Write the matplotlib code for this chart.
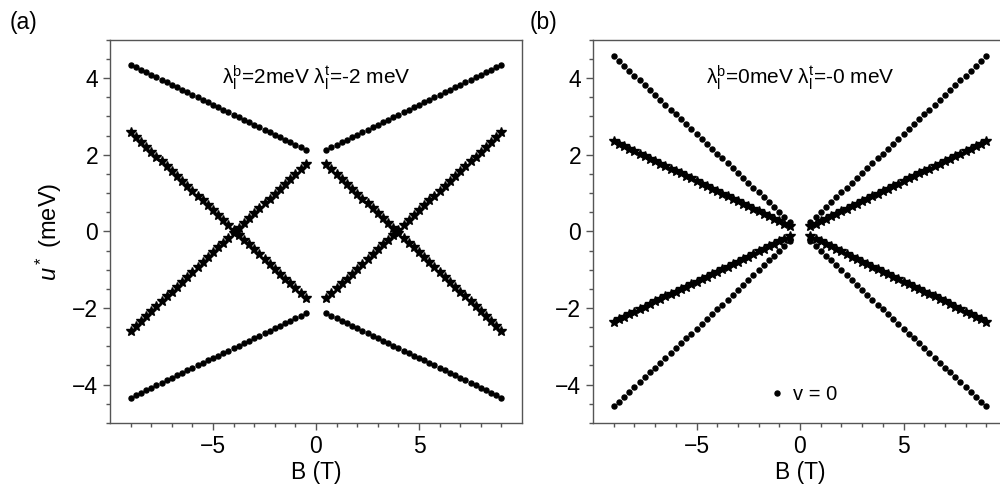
import numpy as np
import matplotlib
matplotlib.use("Agg")
import matplotlib.pyplot as plt
from matplotlib.ticker import FixedLocator, MultipleLocator

plt.rcParams["font.family"] = ["Liberation Sans", "DejaVu Sans"]
plt.rcParams["mathtext.fontset"] = "custom"
plt.rcParams["mathtext.rm"] = "Liberation Sans"
plt.rcParams["mathtext.it"] = "Liberation Sans:italic"

# Field values (T) for the positive-B half; negative half is mirrored
B = [0.5, 0.75, 1.0, 1.25, 1.5, 1.75, 2.0, 2.25, 2.5, 2.75, 3.0, 3.25,
     3.5, 3.75, 4.0, 4.25, 4.5, 4.75, 5.0, 5.25, 5.5, 5.75, 6.0, 6.25,
     6.5, 6.75, 7.0, 7.25, 7.5, 7.75, 8.0, 8.25, 8.5, 8.75, 9.0]

# (a) lambda_b = 2 meV, lambda_t = -2 meV
u_dot_a = [2.13, 2.20, 2.26, 2.33, 2.39, 2.46, 2.52, 2.59, 2.65, 2.72,
           2.78, 2.85, 2.91, 2.98, 3.04, 3.11, 3.17, 3.24, 3.30, 3.37,
           3.43, 3.50, 3.56, 3.63, 3.69, 3.76, 3.82, 3.89, 3.95, 4.02,
           4.08, 4.15, 4.21, 4.28, 4.34]
u_star_a = [-1.75, -1.62, -1.49, -1.36, -1.24, -1.11, -0.98, -0.85, -0.73,
            -0.60, -0.47, -0.34, -0.22, -0.09, 0.04, 0.17, 0.30, 0.42,
            0.55, 0.68, 0.81, 0.93, 1.06, 1.19, 1.32, 1.44, 1.57, 1.70,
            1.83, 1.95, 2.08, 2.21, 2.34, 2.46, 2.59]

# (b) lambda_b = 0 meV, lambda_t = 0 meV
u_dot_b = [0.25, 0.38, 0.51, 0.64, 0.76, 0.89, 1.02, 1.14, 1.27, 1.40,
           1.52, 1.65, 1.78, 1.91, 2.03, 2.16, 2.29, 2.41, 2.54, 2.67,
           2.79, 2.92, 3.05, 3.18, 3.30, 3.43, 3.56, 3.68, 3.81, 3.94,
           4.06, 4.19, 4.32, 4.45, 4.57]
u_star_b = [0.13, 0.20, 0.26, 0.33, 0.39, 0.46, 0.52, 0.59, 0.66, 0.72,
            0.79, 0.85, 0.92, 0.98, 1.05, 1.11, 1.18, 1.24, 1.31, 1.38,
            1.44, 1.51, 1.57, 1.64, 1.70, 1.77, 1.83, 1.90, 1.97, 2.03,
            2.10, 2.16, 2.23, 2.29, 2.36]

x_major = [-5, 0, 5]
x_minor = [-9, -8, -7, -6, -4, -3, -2, -1, 1, 2, 3, 4, 6, 7, 8, 9]

labels = ["(a)", "(b)"]
notes = ["λ$_\\mathrm{l}^\\mathrm{b}$=2meV λ$_\\mathrm{l}^\\mathrm{t}$=-2 meV",
         "λ$_\\mathrm{l}^\\mathrm{b}$=0meV λ$_\\mathrm{l}^\\mathrm{t}$=-0 meV"]


def draw_branches(ax, u_dot, u_star):
    b = np.array(B)
    first = True
    for sx in (1, -1):
        for sy in (1, -1):
            ax.plot(sx * b, sy * np.array(u_dot), "o", color="black", ms=3.6,
                    mec="black", label="v = 0" if first else None)
            ax.plot(sx * b, sy * np.array(u_star), "*", color="black", ms=7.8,
                    mec="black", mew=1.0)
            first = False


def style_axis(ax, ylabel=True):
    ax.set_xlim(-10, 10)
    ax.set_ylim(-5, 5)
    ax.xaxis.set_major_locator(FixedLocator(x_major))
    ax.xaxis.set_minor_locator(FixedLocator(x_minor))
    ax.yaxis.set_major_locator(MultipleLocator(2))
    ax.yaxis.set_minor_locator(MultipleLocator(0.5))
    ax.tick_params(which="both", direction="out", color="#555555",
                   labelsize=16.5, top=False, right=False)
    ax.tick_params(which="major", length=5, width=1)
    ax.tick_params(which="minor", length=3, width=1)
    for s in ax.spines.values():
        s.set_color("#555555")
        s.set_linewidth(1.0)
    ax.set_xlabel("B (T)", fontsize=16.5, labelpad=2)
    if ylabel:
        ax.set_ylabel(r"$u^*$ (meV)", fontsize=17, labelpad=6)


fig = plt.figure(figsize=(10, 4.97), dpi=100)
ax_a = fig.add_axes([0.110, 0.149, 0.412, 0.771])
ax_b = fig.add_axes([0.593, 0.149, 0.414, 0.771])

draw_branches(ax_a, u_dot_a, u_star_a)
draw_branches(ax_b, u_dot_b, u_star_b)
style_axis(ax_a)
style_axis(ax_b, ylabel=False)

for ax, note in zip((ax_a, ax_b), notes):
    ax.text(0, 4.0, note, ha="center", va="center", fontsize=15)

ax_b.legend(loc="center", bbox_to_anchor=(0.51, 0.075), frameon=False,
            fontsize=14.5, handlelength=0.6, handletextpad=0.5, markerscale=1.0)

fig.text(0.010, 0.955, labels[0], fontsize=16.5, va="center")
fig.text(0.530, 0.955, labels[1], fontsize=16.5, va="center")

fig.savefig("out.png", dpi=100)
